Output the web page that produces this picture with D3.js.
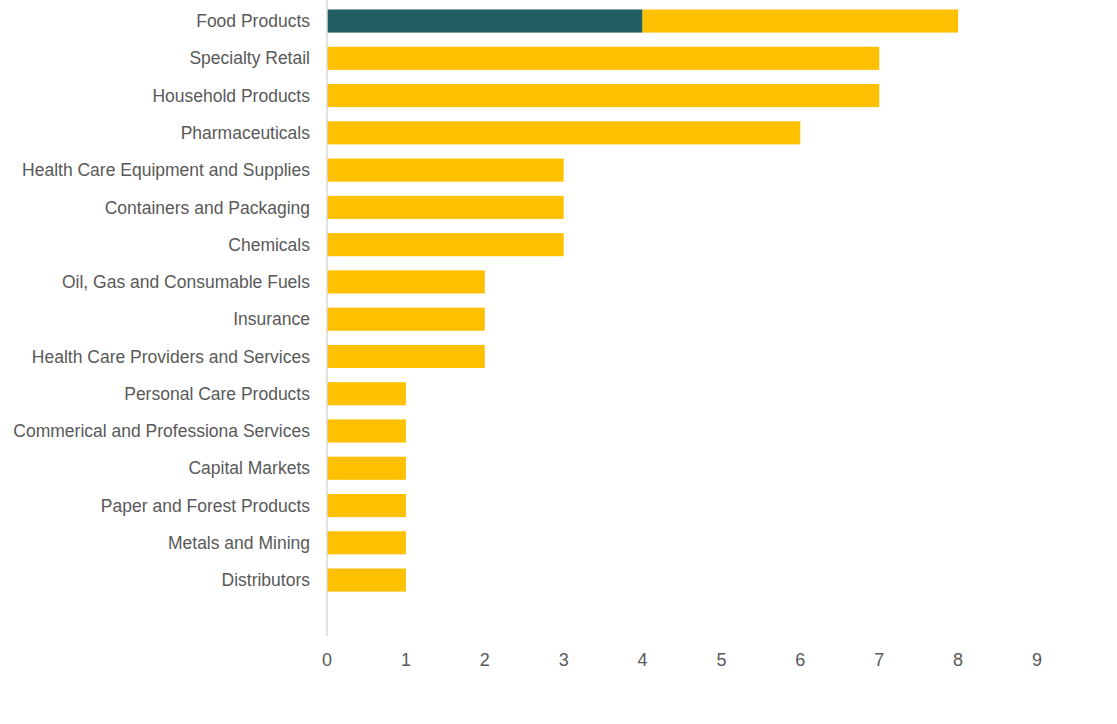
<!DOCTYPE html>
<html>
<head>
<meta charset="utf-8">
<script src="https://cdn.jsdelivr.net/npm/d3@7"></script>
<style>
  body { margin: 0; background: #fff; }
  svg { display: block; }
</style>
</head>
<body>
<svg id="chart"></svg>
<script>
const categories = [
    "Food Products", "Specialty Retail", "Household Products", "Pharmaceuticals",
    "Health Care Equipment and Supplies", "Containers and Packaging", "Chemicals",
    "Oil, Gas and Consumable Fuels", "Insurance", "Health Care Providers and Services",
    "Personal Care Products", "Commerical and Professiona Services", "Capital Markets",
    "Paper and Forest Products", "Metals and Mining", "Distributors"
];
const seriesA = [4, 0, 0, 0, 0, 0, 0, 0, 0, 0, 0, 0, 0, 0, 0, 0];
const seriesB = [4, 7, 7, 6, 3, 3, 3, 2, 2, 2, 1, 1, 1, 1, 1, 1];
const xTicks = [0, 1, 2, 3, 4, 5, 6, 7, 8, 9];

const w = 1117, h = 724;
const left = 327;
const colors = ["#215F63", "#FFC000"];

const rows = categories.map((c, i) => ({ cat: c, a: seriesA[i], b: seriesB[i] }));
const stack = d3.stack().keys(["a", "b"])(rows);

let svg = d3.select("#chart").attr("width", w).attr("height", h);

let x = d3.scaleLinear().domain([0, 9]).range([left, 1037]);
let y = d3.scaleBand().domain(categories).range([2.4, 598.7]).paddingInner(0.38).paddingOuter(0.19);

svg.selectAll("g.series")
    .data(stack)
    .enter()
    .append("g")
    .attr("fill", (d, i) => colors[i])
    .selectAll("rect")
    .data(d => d)
    .enter()
    .append("rect")
    .attr("x", d => x(d[0]))
    .attr("y", d => y(d.data.cat))
    .attr("width", d => x(d[1]) - x(d[0]))
    .attr("height", y.bandwidth());

// vertical axis line
svg.append("line")
    .attr("x1", left).attr("x2", left)
    .attr("y1", 0).attr("y2", 636)
    .attr("stroke", "#d9d9d9")
    .attr("stroke-width", 1.5);

svg.selectAll("text.cat")
    .data(categories)
    .enter()
    .append("text")
    .attr("class", "cat")
    .text(d => d)
    .attr("x", 310)
    .attr("y", d => y(d) + y.bandwidth() / 2)
    .attr("dy", "0.35em")
    .attr("text-anchor", "end")
    .attr("font-family", "Liberation Sans, Arial, sans-serif")
    .attr("font-size", "17.5px")
    .attr("fill", "#595959");

svg.selectAll("text.tick")
    .data(xTicks)
    .enter()
    .append("text")
    .attr("class", "tick")
    .text(d => d)
    .attr("x", d => x(d))
    .attr("y", 660)
    .attr("dy", "0.35em")
    .attr("text-anchor", "middle")
    .attr("font-family", "Liberation Sans, Arial, sans-serif")
    .attr("font-size", "18px")
    .attr("fill", "#595959");
</script>
</body>
</html>
